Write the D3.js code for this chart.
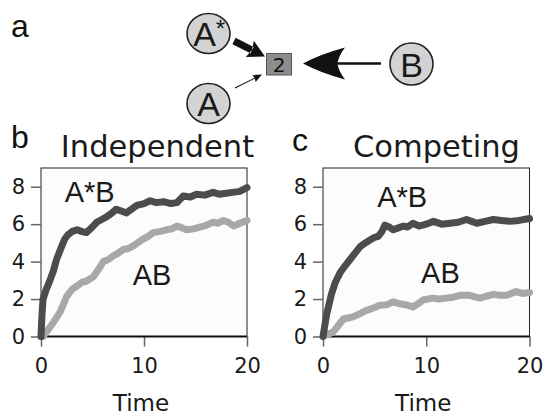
<!DOCTYPE html>
<html><head><meta charset="utf-8">
<script src="https://cdn.jsdelivr.net/npm/d3@7"></script>
<style>
html,body{margin:0;padding:0;background:#fff;}
svg{display:block;}
</style></head>
<body>
<svg id="chart" width="546" height="418"></svg>
<script>
// ---------- data ----------
const yTicks = [0, 2, 4, 6, 8];
const xTicks = [0, 10, 20];
const panelTitles = ["Independent", "Competing"];
const panelLetters = ["b", "c"];
const seriesNames = ["A*B", "AB"];

// Panel b (Independent)
const indepAstarB_t = [0,0.1,0.2,0.5,0.87,1.2,1.5,2.0,2.3,2.65,3.0,3.5,4.0,4.4,4.9,5.4,5.9,6.4,6.9,7.3,7.8,8.3,8.8,9.3,10.0,10.6,11.2,11.9,12.6,13.2,13.8,14.5,15.1,15.9,16.7,17.3,18.0,18.6,19.3,20];
const indepAstarB_v = [0,1.2,2.0,2.5,3.0,3.5,4.1,4.8,5.2,5.45,5.6,5.7,5.6,5.55,5.8,6.1,6.25,6.4,6.6,6.8,6.7,6.6,6.8,7.0,7.1,7.25,7.15,7.2,7.1,7.15,7.5,7.45,7.6,7.55,7.7,7.6,7.65,7.7,7.75,7.95];
const indepAB_t = [0.2,0.6,1.2,1.85,2.2,2.5,3.0,3.5,4.0,4.4,5.1,5.6,6.05,6.5,7.0,7.5,8.0,8.5,9.0,9.9,10.4,10.9,11.5,12.2,12.7,13.2,13.7,14.1,14.8,15.5,16.1,16.7,17.2,17.7,18.2,18.7,19.3,20];
const indepAB_v = [0,0.3,0.75,1.3,1.75,2.15,2.5,2.7,2.9,2.95,3.2,3.6,4.0,4.1,4.3,4.45,4.65,4.7,4.85,5.2,5.35,5.55,5.6,5.7,5.75,5.9,5.8,5.7,5.75,5.85,5.95,6.1,6.05,6.2,6.1,5.9,6.05,6.2];

// Panel c (Competing)
const compAstarB_t = [0,0.36,0.84,1.2,1.65,2.1,2.6,3.1,3.6,4.1,4.55,5.0,5.35,5.7,6.0,6.4,6.8,7.3,7.8,8.2,8.7,9.3,10.0,10.7,11.5,12.3,13.1,13.9,14.4,14.9,15.7,16.5,17.3,18.1,19.0,20];
const compAstarB_v = [0,1.2,2.3,2.9,3.4,3.75,4.1,4.45,4.8,5.0,5.15,5.3,5.35,5.6,5.95,5.85,5.7,5.8,5.9,5.85,6.05,5.9,6.0,6.15,6.0,6.05,6.1,6.25,6.15,6.05,6.15,6.25,6.2,6.15,6.2,6.3];
const compAB_t = [0.2,0.6,1.0,1.5,2.0,2.5,2.9,3.5,4.2,4.8,5.5,6.2,6.8,7.4,8.0,8.7,9.2,9.7,10.6,11.2,11.9,12.6,13.3,14.2,15.2,15.8,16.5,17.1,17.8,18.7,19.3,20];
const compAB_v = [0.05,0.15,0.25,0.6,0.95,1.0,1.05,1.2,1.4,1.5,1.67,1.7,1.85,1.75,1.7,1.58,1.75,1.95,2.05,2.0,2.05,2.1,2.2,2.2,2.05,2.15,2.25,2.2,2.2,2.4,2.3,2.35];

// ---------- drawing ----------
const svg = d3.select("#chart");
const DARK = "#4c4c4c", LIGHT = "#a8a8a8";
const sansArial = "'Liberation Sans', Arial, sans-serif";
const sansDV = "'DejaVu Sans', sans-serif";

// --- panel a: schematic ---
svg.append("text").attr("x", 11).attr("y", 37).attr("font-family", sansArial)
  .attr("font-size", 32).attr("fill", "#111").text("a");

function arrowPath(x1, y1, x2, y2, shaftW, headL, headW, notch, curve) {
  const dx = x2 - x1, dy = y2 - y1, L = Math.hypot(dx, dy);
  const ux = dx / L, uy = dy / L, nx = -uy, ny = ux;
  const bx = x2 - ux * headL, by = y2 - uy * headL;
  const mx = x2 - ux * headL * notch, my = y2 - uy * headL * notch;
  const p = d3.path();
  p.moveTo(x1 + nx * shaftW / 2, y1 + ny * shaftW / 2);
  p.lineTo(mx + nx * shaftW / 2, my + ny * shaftW / 2);
  p.lineTo(mx - nx * shaftW / 2, my - ny * shaftW / 2);
  p.lineTo(x1 - nx * shaftW / 2, y1 - ny * shaftW / 2);
  p.closePath();
  const lx = bx + nx * headW, ly = by + ny * headW;
  const rx = bx - nx * headW, ry = by - ny * headW;
  p.moveTo(x2, y2);
  if (curve) {
    const c = curve;
    p.quadraticCurveTo((x2 + lx) / 2 + nx * c * 0.3 + ux * c, (y2 + ly) / 2 + ny * c * 0.3 + uy * c, lx, ly);
    p.quadraticCurveTo((lx + mx) / 2 + ux * c * 0.6, (ly + my) / 2 + uy * c * 0.6, mx, my);
    p.quadraticCurveTo((rx + mx) / 2 + ux * c * 0.6, (ry + my) / 2 + uy * c * 0.6, rx, ry);
    p.quadraticCurveTo((x2 + rx) / 2 - nx * c * 0.3 + ux * c, (y2 + ry) / 2 - ny * c * 0.3 + uy * c, x2, y2);
  } else {
    p.lineTo(lx, ly); p.lineTo(mx, my); p.lineTo(rx, ry);
  }
  p.closePath();
  return p.toString();
}

const gA = svg.append("g");
gA.append("path").attr("d", arrowPath(234, 41, 265, 56.5, 7, 17, 9, 0.85)).attr("fill", "#111");
gA.append("path").attr("d", arrowPath(235, 88, 262, 74.5, 1.1, 9, 3.8, 0.9)).attr("fill", "#111");
gA.append("path").attr("d", arrowPath(381, 63.5, 303, 63.5, 2.6, 42, 16, 0.82, 4)).attr("fill", "#111");

const circles = [
  {cx: 208.5, cy: 33.5, ry: 20, label: "A", star: true},
  {cx: 208.5, cy: 103.5, ry: 20, label: "A", star: false},
  {cx: 411.5, cy: 64, ry: 21, label: "B", star: false}
];
circles.forEach(c => {
  gA.append("ellipse").attr("cx", c.cx).attr("cy", c.cy).attr("rx", 21.5).attr("ry", c.ry)
    .attr("fill", "#d3d3d3").attr("stroke", "#222").attr("stroke-width", 1.6);
  gA.append("text").attr("x", c.star ? c.cx - 4 : c.cx).attr("y", c.cy + 12.5)
    .attr("text-anchor", "middle").attr("font-family", sansArial).attr("font-size", 34)
    .attr("fill", "#1a1a1a").text(c.label);
  if (c.star) {
    gA.append("text").attr("x", c.cx + 12).attr("y", c.cy + 3)
      .attr("text-anchor", "middle").attr("font-family", sansArial).attr("font-size", 24)
      .attr("fill", "#1a1a1a").text("*");
  }
});
gA.append("rect").attr("x", 266.5).attr("y", 53.5).attr("width", 25).attr("height", 21.5)
  .attr("fill", "#8d8d8d").attr("stroke", "#555").attr("stroke-width", 1);
gA.append("text").attr("x", 279).attr("y", 71.5).attr("text-anchor", "middle")
  .attr("font-family", sansDV).attr("font-size", 20).attr("fill", "#111").text("2");

// --- panels b, c ---
const panels = [
  {left: 41, right: 247, letterX: 11, letterY: 148, titleX: 157.5,
   series: [[indepAstarB_t, indepAstarB_v], [indepAB_t, indepAB_v]],
   labelPos: [[2.3, 7.2], [8.9, 2.77]]},
  {left: 323, right: 529.5, letterX: 292, letterY: 151, titleX: 436.5,
   series: [[compAstarB_t, compAstarB_v], [compAB_t, compAB_v]],
   labelPos: [[5.25, 6.93], [9.5, 2.85]]}
];
const plotTop = 168, plotBottom = 336.5;
const colors = [DARK, LIGHT];

panels.forEach((P, i) => {
  const x = d3.scaleLinear().domain([0, 20]).range([P.left, P.right]);
  const y = d3.scaleLinear().domain([0, 9]).range([plotBottom, plotTop]);
  const g = svg.append("g");

  svg.append("text").attr("x", P.letterX).attr("y", P.letterY).attr("font-family", sansArial)
    .attr("font-size", 32).attr("fill", "#111").text(panelLetters[i]);
  svg.append("text").attr("x", P.titleX).attr("y", 157).attr("text-anchor", "middle")
    .attr("font-family", sansDV).attr("font-size", 30.5).attr("fill", "#1a1a1a").text(panelTitles[i]);

  g.append("rect").attr("x", P.left).attr("y", plotTop).attr("width", P.right - P.left)
    .attr("height", plotBottom - plotTop).attr("fill", "#fcfcfc").attr("stroke", "#222").attr("stroke-width", 1);

  const yAx = g.append("g").attr("transform", `translate(${P.left},0)`)
    .call(d3.axisLeft(y).tickValues(yTicks).tickSize(10).tickPadding(6).tickFormat(d3.format("d")));
  const xAx = g.append("g").attr("transform", `translate(0,${plotBottom})`)
    .call(d3.axisBottom(x).tickValues(xTicks).tickSize(10).tickPadding(12).tickFormat(d3.format("d")));
  [yAx, xAx].forEach(a => {
    a.select(".domain").remove();
    a.selectAll(".tick line").attr("stroke", "#666").attr("stroke-width", 1.5);
    a.selectAll(".tick text").attr("font-family", sansDV).attr("font-size", 21).attr("fill", "#1a1a1a");
  });
  g.append("line").attr("x1", P.left).attr("x2", P.right).attr("y1", plotBottom).attr("y2", plotBottom)
    .attr("stroke", "#111").attr("stroke-width", 2.2);

  const line = d3.line().x(d => x(d[0])).y(d => y(d[1])).curve(d3.curveLinear);
  [1, 0].forEach(k => {
    const [ts, vs] = P.series[k];
    const pts = ts.map((t, j) => [t, vs[j]]);
    g.append("path").datum(pts).attr("d", line).attr("fill", "none")
      .attr("stroke", colors[k]).attr("stroke-width", 7)
      .attr("stroke-linejoin", "round").attr("stroke-linecap", "round");
  });
  seriesNames.forEach((name, k) => {
    g.append("text").attr("x", x(P.labelPos[k][0])).attr("y", y(P.labelPos[k][1]))
      .attr("font-family", sansArial).attr("font-size", 29).attr("fill", "#1a1a1a").text(name);
  });

  svg.append("text").attr("x", (P.left + P.right) / 2 - 3).attr("y", 411).attr("text-anchor", "middle")
    .attr("font-family", sansDV).attr("font-size", 23).attr("fill", "#1a1a1a").text("Time");
});
</script>
</body></html>
